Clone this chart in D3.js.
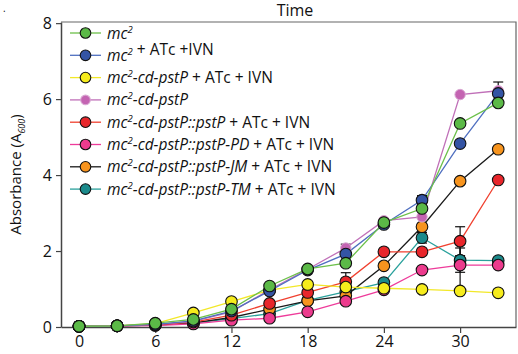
<!DOCTYPE html>
<html>
<head>
<meta charset="utf-8">
<script src="https://cdn.jsdelivr.net/npm/d3@7"></script>
<style>
  body { margin: 0; background: #fff; }
  svg text { font-family: "Open Sans", "DejaVu Sans", sans-serif; fill: #111; }
</style>
</head>
<body>
<div id="chart"></div>
<script>
// growth curves, absorbance at 600 nm vs time (h)
var hours = [0, 3, 6, 9, 12, 15, 18, 21, 24, 27, 30, 33]
var xTicks = [0, 6, 12, 18, 24, 30]
var yTicks = [0, 2, 4, 6, 8]

var strains = ["", "", "-cd-pstP", "-cd-pstP", "-cd-pstP::pstP", "-cd-pstP::pstP-PD", "-cd-pstP::pstP-JM", "-cd-pstP::pstP-TM"]
var treatments = ["", " + ATc +IVN", " + ATc + IVN", "", " + ATc + IVN", " + ATc + IVN", " + ATc + IVN", " + ATc + IVN"]

var mc2       = [0.02, 0.03, 0.10, 0.20, 0.47, 1.08, 1.53, 1.68, 2.75, 3.12, 5.36, 5.90]
var mc2Atc    = [0.02, 0.03, 0.07, 0.16, 0.42, 0.95, 1.50, 1.92, 2.70, 3.34, 4.83, 6.15]
var cdAtc     = [0.02, 0.03, 0.09, 0.37, 0.67, 0.97, 1.12, 1.05, 1.02, 0.99, 0.95, 0.90]
var cd        = [0.02, 0.03, 0.07, 0.15, 0.40, 0.98, 1.52, 2.08, 2.80, 2.90, 6.12, 6.22]
var compP     = [0.02, 0.03, 0.06, 0.13, 0.31, 0.62, 0.91, 1.19, 1.98, 1.98, 2.26, 3.87]
var compPD    = [0.02, 0.03, 0.04, 0.08, 0.18, 0.23, 0.40, 0.68, 0.98, 1.50, 1.63, 1.63]
var compJM    = [0.02, 0.03, 0.05, 0.11, 0.25, 0.47, 0.69, 0.82, 1.61, 2.64, 3.84, 4.68]
var compTM    = [0.02, 0.03, 0.05, 0.10, 0.22, 0.35, 0.70, 0.93, 1.17, 2.35, 1.76, 1.75]

// error bars: [series index, hour, sd]
var errors = [[1, 21, 0.26], [4, 21, 0.24], [1, 27, 0.12], [7, 27, 0.14],
              [4, 30, 0.38], [7, 30, 0.32], [5, 30, 0.70], [3, 33, 0.23]]

var seriesValues = [mc2, mc2Atc, cdAtc, cd, compP, compPD, compJM, compTM]
var lineColors = ["#6cc04a", "#4f6fc0", "#f2e829", "#c070b8", "#f0402f", "#ee3b9a", "#1a1a1a", "#2aa19c"]
var dotColors  = ["#5bb947", "#3454a4", "#f6ec1c", "#c464b2", "#e8262b", "#ec3b8d", "#f7941e", "#1b8a8b"]

var W = 518, H = 354
var margin = {top: 22, right: 2, bottom: 27, left: 61}
var w = W - margin.left - margin.right
var h = H - margin.top - margin.bottom

var svg = d3.select("#chart").append("svg")
            .attr("width", W)
            .attr("height", H)

var x = d3.scaleLinear().domain([-1.42, 34.4]).range([0, w])
var y = d3.scaleLinear().domain([0, 8.03]).range([h, 0])

svg.append("text").attr("x", 3).attr("y", 12).style("font-size", "10px").text(".")

svg.append("text")
   .attr("x", 295).attr("y", 16)
   .attr("text-anchor", "middle")
   .style("font-size", "16px")
   .text("Time")

var g = svg.append("g").attr("transform", "translate(" + margin.left + "," + margin.top + ")")

// frame top and right
g.append("path")
 .attr("d", "M0,0H" + w + "V" + h)
 .attr("fill", "none").attr("stroke", "#666").attr("stroke-width", 1.2)

var yAxis = g.append("g")
             .call(d3.axisLeft(y).tickValues(yTicks).tickSize(5).tickSizeOuter(0).tickPadding(4))
var xAxis = g.append("g")
             .attr("transform", "translate(0," + h + ")")
             .call(d3.axisBottom(x).tickValues(xTicks).tickSize(6).tickSizeOuter(0).tickPadding(3))
;[xAxis, yAxis].forEach(function(a) {
    a.select(".domain").attr("stroke", "#444").attr("stroke-width", 1.5)
    a.selectAll(".tick line").attr("stroke", "#444").attr("stroke-width", 1.2)
    a.selectAll("text").style("font-size", "16px").attr("fill", "#111")
})

var ylab = svg.append("text")
              .attr("transform", "translate(21," + (margin.top + h / 2) + ") rotate(-90)")
              .attr("text-anchor", "middle")
              .style("font-size", "15px")
ylab.append("tspan").text("Absorbance (A")
ylab.append("tspan").attr("dy", 4).style("font-size", "9px").style("font-style", "italic").text("600")
ylab.append("tspan").attr("dy", -4).text(")")

var line = d3.line().x(function(d) { return x(d[0]) }).y(function(d) { return y(d[1]) })
var order = d3.range(seriesValues.length).reverse()

// error bars under everything
var eb = g.append("g").attr("stroke", "#111").attr("stroke-width", 1.2)
errors.forEach(function(e) {
    var v = seriesValues[e[0]][hours.indexOf(e[1])]
    var cx = x(e[1])
    eb.append("line").attr("x1", cx).attr("x2", cx).attr("y1", y(v - e[2])).attr("y2", y(v + e[2]))
    ;[v - e[2], v + e[2]].forEach(function(b) {
        eb.append("line").attr("x1", cx - 5).attr("x2", cx + 5).attr("y1", y(b)).attr("y2", y(b))
    })
})

order.forEach(function(i) {
    var pts = hours.map(function(t, k) { return [t, seriesValues[i][k]] })
    g.append("path")
     .datum(pts)
     .attr("d", line)
     .attr("fill", "none")
     .attr("stroke", lineColors[i])
     .attr("stroke-width", 1.3)
})
order.forEach(function(i) {
    var pts = hours.map(function(t, k) { return [t, seriesValues[i][k]] })
    g.selectAll(null)
     .data(pts)
     .enter().append("circle")
     .attr("cx", function(d) { return x(d[0]) })
     .attr("cy", function(d) { return y(d[1]) })
     .attr("r", i == 3 ? 5.2 : 5.8)
     .attr("fill", dotColors[i])
     .attr("stroke", i == 3 ? "#d9a8d2" : "#111")
     .attr("stroke-width", i == 3 ? 1 : 1.1)
})

// legend
var leg = svg.append("g").attr("transform", "translate(70,33)")
strains.forEach(function(s, i) {
    var row = leg.append("g").attr("transform", "translate(0," + (i * 22.3) + ")")
    row.append("line").attr("x1", 0).attr("x2", 31).attr("stroke", lineColors[i]).attr("stroke-width", 1.3)
    row.append("circle").attr("cx", 15.5).attr("r", i == 3 ? 4.8 : 5.3)
       .attr("fill", dotColors[i])
       .attr("stroke", i == 3 ? "#d9a8d2" : "#111").attr("stroke-width", 1.1)
    var t = row.append("text").attr("x", 37).attr("y", 5.5).style("font-size", "15.5px")
    t.append("tspan").style("font-style", "italic").text("mc")
    t.append("tspan").attr("dy", -6).style("font-size", "9.5px").style("font-style", "italic").text("2")
    t.append("tspan").attr("dy", 6).style("font-style", "italic").text(s)
    t.append("tspan").text(treatments[i])
})
</script>
</body>
</html>
